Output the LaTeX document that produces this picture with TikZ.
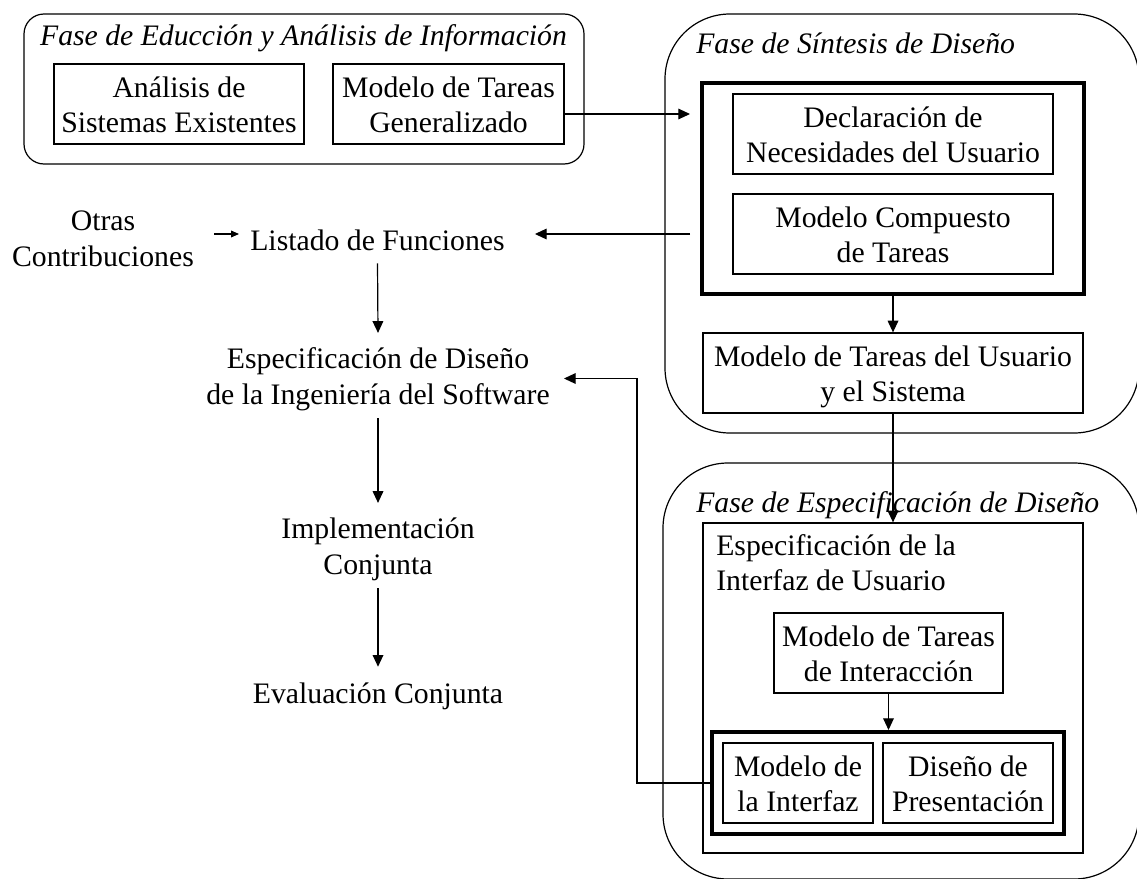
\documentclass[tikz,border=0pt]{standalone}
\usepackage{fontspec}
\setmainfont{Liberation Serif}
\usetikzlibrary{arrows.meta}
\newcommand\boxstrut{\vrule height 21.3pt depth 4.8pt width 0pt\relax}
\newcommand\freestrut{\vrule height 19.5pt depth 7.5pt width 0pt\relax}
\begin{document}
\begin{tikzpicture}[x=0.75pt,y=-0.75pt,
  txt/.style={inner sep=0pt, align=center, font=\fontsize{22.3}{27.5}\selectfont},
  btxt/.style={inner sep=0pt, align=center, font=\fontsize{22.3}{26.25}\selectfont},
  box/.style={btxt, draw, line width=0.9pt},
  thickbox/.style={draw, line width=3pt, inner sep=0pt},
  phase/.style={draw, line width=0.9pt, inner sep=0pt},
  ttl/.style={inner sep=0pt, font=\fontsize{22.3}{27.5}\selectfont\itshape},
  arr/.style={line width=0.9pt, -{Triangle[length=8.8pt,width=8pt]}},
  sarr/.style={line width=0.9pt, -{Triangle[length=6pt,width=5pt]}}]
\useasboundingbox (0,0) rectangle (1137,878);
\fill[white] (0,0) rectangle (1137,878);

% phases
\node[phase, rounded corners=15pt, minimum width=420pt, minimum height=112.5pt] (P1) at (304,89) {};
\node[phase, rounded corners=48.75pt, minimum width=355.5pt, minimum height=314.25pt] (P2) at (902,223.5) {};
\node[phase, rounded corners=48.75pt, minimum width=357pt, minimum height=312pt] (P3) at (901,671) {};

\node[ttl, anchor=base] (P1t) at (303.5,45) {Fase de Educción y Análisis de Información};
\node[ttl, anchor=base west] (P2t) at (696,53) {Fase de Síntesis de Diseño};
\node[ttl, anchor=base west] (P3t) at (696,512) {Fase de Especificación de Diseño};

\node[box, minimum width=187.5pt, minimum height=60pt] (A) at (179,104) {\boxstrut Análisis de\\\boxstrut Sistemas Existentes};
\node[box, minimum width=173.25pt, minimum height=60pt] (B) at (448.5,104) {\boxstrut Modelo de Tareas\\\boxstrut Generalizado};

\node[thickbox, minimum width=286.5pt, minimum height=158.25pt] (T1) at (893,188.5) {};
\node[box, minimum width=240pt, minimum height=60pt] (C) at (893,134) {\boxstrut Declaración de\\\boxstrut Necesidades del Usuario};
\node[box, minimum width=240pt, minimum height=60pt] (D) at (893,234) {\boxstrut Modelo Compuesto\\\boxstrut de Tareas};
\node[box, minimum width=285pt, minimum height=60pt] (E) at (893,373) {\boxstrut Modelo de Tareas del Usuario\\\boxstrut y el Sistema};

\node[box, minimum width=285pt, minimum height=247.5pt] (F) at (893,688) {};
\node[btxt, anchor=north west, align=left] (Ft) at (716,526.6) {\boxstrut Especificación de la\\\boxstrut Interfaz de Usuario};
\node[box, minimum width=171.75pt, minimum height=60pt] (G) at (888.5,653) {\boxstrut Modelo de Tareas\\\boxstrut de Interacción};
\node[thickbox, minimum width=264pt, minimum height=76.5pt] (H) at (888,783) {};
\node[box, minimum width=112.5pt, minimum height=60pt] (I) at (798,783) {\boxstrut Modelo de\\\boxstrut la Interfaz};
\node[box, minimum width=127.5pt, minimum height=60pt] (J) at (968,783) {\boxstrut Diseño de\\\boxstrut Presentación};

% left column
\node[txt] (O) at (103,240.5) {\freestrut Otras\\\freestrut Contribuciones};
\node[txt] (L) at (377.5,242) {\freestrut Listado de Funciones};
\node[txt] (Es) at (378,378.5) {\freestrut Especificación de Diseño\\\freestrut de la Ingeniería del Software};
\node[txt] (Im) at (378,548.5) {\freestrut Implementación\\\freestrut Conjunta};
\node[txt] (Ev) at (378,695) {\freestrut Evaluación Conjunta};

% connectors
\coordinate (t1w) at ([xshift=-7.5pt]T1.west);
\draw[arr] ([yshift=-7.5pt]B.east) -- ([yshift=-7.5pt]t1w |- B.east);
\draw[arr] (t1w |- D.west) -- ([xshift=22.5pt]L.east |- D.west);
\draw[sarr] ([xshift=15pt]O.east |- D.west) -- ([xshift=-8.25pt]L.west |- D.west);
\draw[arr] ([yshift=-2.25pt]L.south) -- ([yshift=6.75pt]Es.north);
\draw[arr] ([yshift=-2.25pt]Es.south) -- ([yshift=6.75pt]Im.north);
\draw[arr] ([yshift=-2.25pt]Im.south) -- ([yshift=7.5pt]Ev.north);
\draw[arr] (T1.south) -- (E.north);
\draw[arr] (E.south) -- (F.north);
\draw[arr] (G.south) -- (G.south |- H.north);
\draw[arr] (H.west) -- ++(-54.75pt,0pt) |- ([xshift=10.5pt]Es.east);
\end{tikzpicture}
\end{document}
